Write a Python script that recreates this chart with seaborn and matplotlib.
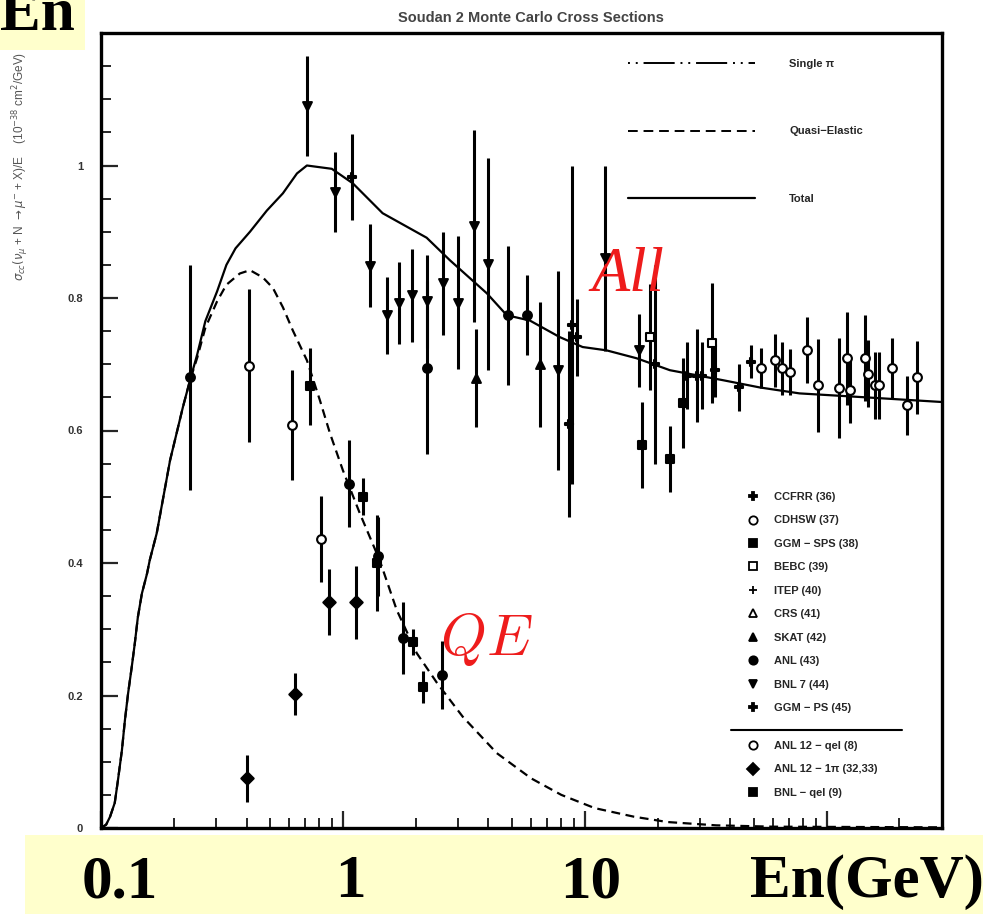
import numpy as np
import pandas as pd
import matplotlib
matplotlib.use("Agg")
import matplotlib.pyplot as plt
import seaborn as sns
from matplotlib.lines import Line2D
from matplotlib.patches import Rectangle
from matplotlib.ticker import MultipleLocator, LogLocator, NullFormatter, FixedLocator

# ---------------- curves ----------------
total_E = [0.100, 0.105, 0.109, 0.114, 0.1175, 0.122, 0.1256, 0.1294, 0.134, 0.138, 0.142, 0.1476,
           0.155, 0.159, 0.170, 0.193, 0.218, 0.233, 0.25, 0.27, 0.302, 0.33, 0.36, 0.413, 0.485,
           0.565, 0.646, 0.71, 0.90, 1.10, 1.46, 2.22, 2.77, 3.94, 4.76, 5.93, 7.88, 9.8, 12.3,
           16.4, 22.5, 37.2, 52.9, 77.3, 146, 300]
total_sigma = [0.0, 0.005, 0.017, 0.038, 0.072, 0.117, 0.163, 0.203, 0.243, 0.279, 0.318, 0.354,
               0.384, 0.404, 0.445, 0.555, 0.635, 0.675, 0.715, 0.765, 0.81, 0.85, 0.875, 0.90,
               0.932, 0.958, 0.988, 1.0, 0.995, 0.973, 0.928, 0.891, 0.857, 0.807, 0.774, 0.766,
               0.741, 0.726, 0.721, 0.709, 0.691, 0.676, 0.665, 0.656, 0.650, 0.643]

qe_E = [0.100, 0.105, 0.109, 0.114, 0.1175, 0.122, 0.1256, 0.1294, 0.134, 0.138, 0.142, 0.1476,
        0.155, 0.159, 0.170, 0.193, 0.218, 0.233, 0.25, 0.27, 0.302, 0.33, 0.375, 0.413, 0.467,
        0.514, 0.565, 0.621, 0.71, 0.803, 0.884, 1.0, 1.175, 1.42, 1.67, 2.02, 2.45, 3.13, 4.33,
        6.0, 8.0, 11.0, 16.0, 22.0, 35.0, 60.0, 300]
qe_sigma = [0.0, 0.005, 0.017, 0.038, 0.072, 0.117, 0.163, 0.203, 0.243, 0.279, 0.318, 0.354,
            0.384, 0.404, 0.445, 0.555, 0.635, 0.675, 0.71, 0.755, 0.795, 0.82, 0.837, 0.842,
            0.831, 0.815, 0.786, 0.751, 0.706, 0.646, 0.596, 0.540, 0.475, 0.404, 0.329, 0.264,
            0.219, 0.168, 0.113, 0.075, 0.05, 0.03, 0.017, 0.009, 0.004, 0.002, 0.001]

# ---------------- data points ----------------
exp_labels = ["CCFRR (36)", "CDHSW (37)", "GGM − SPS (38)", "BEBC (39)", "ITEP (40)",
              "CRS (41)", "SKAT (42)", "ANL (43)", "BNL 7 (44)", "GGM − PS (45)"]
qel_labels = ["ANL 12 − qel (8)", "ANL 12 − 1π (32,33)", "BNL − qel (9)"]

pt_exp = (["BNL 7 (44)"] * 14 + ["GGM − PS (45)"] + ["ANL (43)"] * 8 + ["SKAT (42)"] * 2
          + ["GGM − SPS (38)"] * 3 + ["BEBC (39)"] * 2 + ["CCFRR (36)"] * 10 + ["CDHSW (37)"] * 16
          + ["ANL 12 − qel (8)"] * 3 + ["ANL 12 − 1π (32,33)"] * 4 + ["BNL − qel (9)"] * 5)
pt_E = [0.71, 0.927, 1.29, 1.52, 1.70, 1.93, 2.22, 2.59, 2.99, 3.48, 3.97, 7.73, 12.1, 16.7,
        1.09,
        0.233, 2.22, 4.81, 5.75, 1.06, 1.77, 2.56, 1.40,
        3.54, 6.52,
        17.2, 22.5, 25.4,
        18.6, 33.5,
        8.6, 8.84, 9.27, 19.5, 26.4, 29.0, 30.5, 34.5, 43.3, 48.5,
        53.4, 61, 65.2, 70.3, 82.6, 91.8, 113, 121, 125, 144, 148, 158, 165, 187, 214, 236,
        0.409, 0.616, 0.811,
        0.401, 0.633, 0.875, 1.13,
        0.73, 1.21, 1.38, 1.95, 2.14]
pt_sigma = [1.09, 0.96, 0.849, 0.774, 0.793, 0.804, 0.795, 0.822, 0.793, 0.909, 0.851, 0.691, 0.86, 0.721,
            0.982,
            0.68, 0.695, 0.774, 0.774, 0.52, 0.287, 0.231, 0.41,
            0.679, 0.70,
            0.578, 0.557, 0.641,
            0.741, 0.732,
            0.61, 0.759, 0.741, 0.70, 0.683, 0.683, 0.683, 0.691, 0.665, 0.704,
            0.694, 0.706, 0.694, 0.688, 0.722, 0.668, 0.664, 0.709, 0.661, 0.710, 0.686, 0.668, 0.668, 0.694, 0.638, 0.68,
            0.698, 0.608, 0.436,
            0.075, 0.202, 0.341, 0.341,
            0.667, 0.50, 0.40, 0.281, 0.213]
pt_err = [0.075, 0.06, 0.062, 0.058, 0.062, 0.07, 0.07, 0.078, 0.10, 0.145, 0.16, 0.15, 0.14, 0.055,
          0.065,
          0.17, 0.13, 0.105, 0.06, 0.066, 0.054, 0.052, 0.06,
          0.074, 0.094,
          0.065, 0.05, 0.068,
          0.08, 0.09,
          0.14, 0.24, 0.058, 0.15, 0.05, 0.07, 0.05, 0.04, 0.035, 0.025,
          0.03, 0.04, 0.04, 0.035, 0.05, 0.07, 0.075, 0.07, 0.05, 0.065, 0.05, 0.05, 0.05, 0.045, 0.045, 0.055,
          0.115, 0.083, 0.065,
          0.035, 0.032, 0.05, 0.055,
          0.058, 0.028, 0.072, 0.02, 0.024]

markers = {"CCFRR (36)": "P", "CDHSW (37)": "o", "GGM − SPS (38)": "s", "BEBC (39)": "s",
           "ITEP (40)": "+", "CRS (41)": "^", "SKAT (42)": "^", "ANL (43)": "o",
           "BNL 7 (44)": "v", "GGM − PS (45)": "P",
           "ANL 12 − qel (8)": "o", "ANL 12 − 1π (32,33)": "D", "BNL − qel (9)": "s"}
open_exps = {"CDHSW (37)", "BEBC (39)", "CRS (41)", "ANL 12 − qel (8)"}

df = pd.DataFrame({"exp": pt_exp, "E": pt_E, "sigma": pt_sigma, "err": pt_err})

# ---------------- figure ----------------
sns.set_theme(style="ticks")
plt.rcParams["font.family"] = ["Liberation Sans", "DejaVu Sans"]

fig = plt.figure(figsize=(9.83, 9.14), dpi=100)
ax = fig.add_axes([101/983, 1-828/914, (942-101)/983, (828-33)/914])
ax.set_xscale("log")
ax.set_xlim(0.1, 300)
ax.set_ylim(0, 1.2)

sns.lineplot(x=total_E, y=total_sigma, ax=ax, color="black", lw=1.6, sort=False)
sns.lineplot(x=qe_E, y=qe_sigma, ax=ax, color="black", lw=1.6, sort=False,
             linestyle=(0, (4, 2.5)))

ax.errorbar(df["E"], df["sigma"], yerr=df["err"], fmt="none", ecolor="black",
            elinewidth=2.2, capsize=0, zorder=3)
for name, sub in df.groupby("exp"):
    fc = "white" if name in open_exps else "black"
    sns.scatterplot(data=sub, x="E", y="sigma", ax=ax, marker=markers[name], s=40,
                    color=fc, edgecolor="black", linewidth=1.5, zorder=4, legend=False)

ax.set_xlabel("")
ax.set_ylabel("")

# axes styling
for sp in ax.spines.values():
    sp.set_linewidth(2.4)
    sp.set_color("black")
ax.yaxis.set_major_locator(FixedLocator([0, 0.2, 0.4, 0.6, 0.8, 1.0]))
ax.yaxis.set_minor_locator(MultipleLocator(0.05))
ax.set_yticklabels(["0", "0.2", "0.4", "0.6", "0.8", "1"])
ax.xaxis.set_major_locator(LogLocator(base=10, numticks=10))
ax.xaxis.set_minor_locator(LogLocator(base=10, subs=np.arange(2, 10), numticks=50))
ax.xaxis.set_major_formatter(NullFormatter())
ax.xaxis.set_minor_formatter(NullFormatter())
ax.tick_params(axis="both", which="major", direction="in", length=12, width=1.6,
               labelsize=8, labelcolor="#333333", pad=13)
ax.tick_params(axis="both", which="minor", direction="in", length=7, width=1.4)
for lab in ax.get_yticklabels():
    lab.set_fontweight("bold")

# ---------------- legends ----------------
fs = 8
h_curves = [Line2D([], [], color="black", lw=1.4, linestyle=(0, (1, 3, 1, 3, 16, 3))),
            Line2D([], [], color="black", lw=1.4, linestyle=(0, (5, 3))),
            Line2D([], [], color="black", lw=1.6)]
leg1 = ax.legend(h_curves, ["Single π", "Quasi−Elastic", "Total"], loc="upper left",
                 bbox_to_anchor=(628/983, 1-59/914), bbox_transform=fig.transFigure,
                 frameon=False, handlelength=11.4, handletextpad=3.1,
                 labelspacing=5.17, borderpad=0, borderaxespad=0,
                 prop={"weight": "bold", "size": fs})
ax.add_artist(leg1)

def mk_handle(name):
    fc = "white" if name in open_exps else "black"
    return Line2D([], [], linestyle="none", marker=markers[name], markersize=6,
                  markerfacecolor=fc, markeredgecolor="black", markeredgewidth=1.3)

leg2 = ax.legend([mk_handle(n) for n in exp_labels], exp_labels, loc="upper left",
                 bbox_to_anchor=(747/983, 1-492/914), bbox_transform=fig.transFigure,
                 frameon=False, handlelength=1.0, handletextpad=1.4, labelspacing=1.21,
                 borderpad=0, borderaxespad=0, prop={"weight": "bold", "size": fs})
ax.add_artist(leg2)
leg3 = ax.legend([mk_handle(n) for n in qel_labels], qel_labels, loc="upper left",
                 bbox_to_anchor=(747/983, 1-741/914), bbox_transform=fig.transFigure,
                 frameon=False, handlelength=1.0, handletextpad=1.4, labelspacing=1.21,
                 borderpad=0, borderaxespad=0, prop={"weight": "bold", "size": fs})
fig.add_artist(Line2D([731/983, 902/983], [1-730/914, 1-730/914], color="black", lw=1.5,
                      transform=fig.transFigure))

# ---------------- annotations ----------------
ax.text(10.7, 0.81, "All", fontsize=45, color="#ee1c1c", family="Liberation Serif",
        style="italic", va="baseline", ha="left")
ax.text(2.52, 0.261, r"$QE$", fontsize=42, color="#ee1c1c", math_fontfamily="cm",
        va="baseline", ha="left")

fig.text(531/983, 1-18/914, "Soudan 2 Monte Carlo Cross Sections", ha="center", va="center",
         fontsize=10.5, weight="bold", color="#444444")
fig.text(0.021, 1-52/914,
         r"$\sigma_{cc}(\nu_\mu$ + N $\rightarrow \mu^{-}$ + X)/E    (10$^{-38}$ cm$^2$/GeV)",
         rotation=90, va="top", ha="center", fontsize=8.5, color="#555555")

# yellow boxes
fig.add_artist(Rectangle((0, 1-50/914), 85/983, 50/914, transform=fig.transFigure,
                         facecolor="#ffffcc", edgecolor="none", zorder=0))
fig.add_artist(Rectangle((25/983, 0), 1-25/983, (914-835)/914, transform=fig.transFigure,
                         facecolor="#ffffcc", edgecolor="none", zorder=0))
big = dict(family="Liberation Serif", weight="bold", fontsize=44, va="baseline", color="black")
fig.text(0/983, 1-30/914, "En", ha="left", **big)
yb = 1-897/914
fig.text(120/983, yb, "0.1", ha="center", **big)
fig.text(350/983, yb, "1", ha="center", **big)
fig.text(591/983, yb, "10", ha="center", **big)
fig.text(750/983, yb, "En(GeV)", ha="left", **big)

fig.savefig("out.png", dpi=100)
